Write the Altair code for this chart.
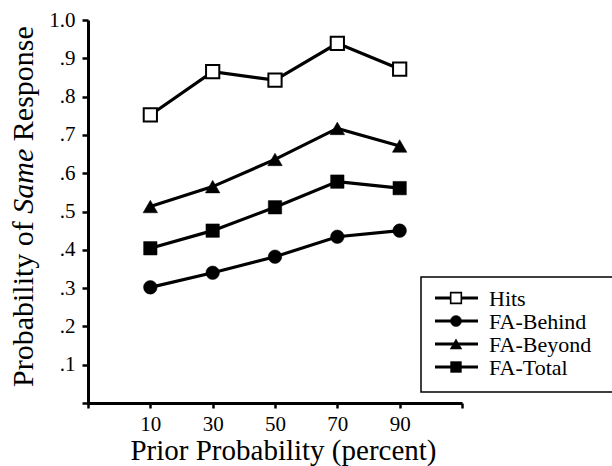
import altair as alt
import pandas as pd

# ---- data ----
prior = [10, 30, 50, 70, 90]
hits = [0.752, 0.865, 0.843, 0.939, 0.872]
fa_behind = [0.302, 0.340, 0.382, 0.434, 0.450]
fa_beyond = [0.513, 0.565, 0.636, 0.717, 0.671]
fa_total = [0.404, 0.450, 0.511, 0.578, 0.561]
series_names = ["Hits", "FA-Behind", "FA-Beyond", "FA-Total"]
x_ticks = [-10, 10, 30, 50, 70, 90, 110]
y_ticks = [0, 0.1, 0.2, 0.3, 0.4, 0.5, 0.6, 0.7, 0.8, 0.9, 1.0]

FONT = "'Liberation Serif', 'Times New Roman', Times, 'DejaVu Serif', serif"
W, H = 374, 383
PAD_L, PAD_T = 88, 20

rows = []
for name, vals in zip(series_names, [hits, fa_behind, fa_beyond, fa_total]):
    for p, v in zip(prior, vals):
        rows.append({"series": name, "prior": p, "prob": v})
df = pd.DataFrame(rows)

shapes = {"Hits": "square", "FA-Behind": "circle", "FA-Beyond": "triangle-up", "FA-Total": "square"}
fills = {"Hits": "white", "FA-Behind": "black", "FA-Beyond": "black", "FA-Total": "black"}
sizes = {"Hits": 175, "FA-Behind": 185, "FA-Beyond": 210, "FA-Total": 180}

xenc = alt.X(
    "prior:Q",
    scale=alt.Scale(domain=[-10, 110], nice=False, zero=False),
    axis=alt.Axis(
        values=x_ticks,
        labelExpr="(datum.value < 0 || datum.value > 100) ? '' : datum.label",
        title="Prior Probability (percent)",
        titleX=195, titleY=56, titleBaseline="alphabetic", titleAlign="center",
        titleAnchor="start",
        tickSize=5, labelPadding=5,
    ),
)
yenc = alt.Y(
    "prob:Q",
    scale=alt.Scale(domain=[0, 1], nice=False),
    axis=alt.Axis(
        values=y_ticks,
        labelExpr="datum.value == 0 ? '' : (datum.value >= 1 ? '1.0' : replace(format(datum.value, '.1f'), '0.', '.'))",
        title=None,
        tickSize=6, labelPadding=7,
    ),
)

base = alt.Chart(df)
layers = []
for name in series_names:
    sub = base.transform_filter(alt.datum.series == name)
    layers.append(sub.mark_line(color="black", strokeWidth=3.2).encode(x=xenc, y=yenc))
for name in series_names:
    sub = base.transform_filter(alt.datum.series == name)
    layers.append(
        sub.mark_point(
            shape=shapes[name], filled=True, fill=fills[name], stroke="black",
            strokeWidth=2 if name == "Hits" else 0.5, size=sizes[name], opacity=1,
        ).encode(x=xenc, y=yenc)
    )

one = pd.DataFrame({"a": [0]})

# ---- legend (manual) ----
layers.append(
    alt.Chart(one).mark_rect(fill="white", stroke="black", strokeWidth=1.5).encode(
        x=alt.value(333), x2=alt.value(530), y=alt.value(257), y2=alt.value(372)
    )
)
for i, name in enumerate(series_names):
    ly = 278 + 23 * i
    layers.append(
        alt.Chart(one).mark_rule(color="black", strokeWidth=3).encode(
            x=alt.value(347), x2=alt.value(390), y=alt.value(ly)
        )
    )
    layers.append(
        alt.Chart(one).mark_point(
            shape=shapes[name], filled=True, fill=fills[name], stroke="black",
            strokeWidth=1.6 if name == "Hits" else 0.5, size=sizes[name] * 0.65, opacity=1,
        ).encode(x=alt.value(368), y=alt.value(ly))
    )
    layers.append(
        alt.Chart(one).mark_text(
            text=name, font=FONT, fontSize=22, align="left", baseline="middle", color="black"
        ).encode(x=alt.value(401), y=alt.value(ly + 1))
    )

# ---- y title with italic "Same" ----
ty_x = 33 - PAD_L
fs_t = 30
w1 = 5.778 * fs_t
w2 = 2.166 * fs_t
sp = 0.25 * fs_t
start = 387 - PAD_T
for txt, style, off in [("Probability of", "normal", 0), ("Same", "italic", w1), ("Response", "normal", w1 + w2 + sp)]:
    layers.append(
        alt.Chart(one).mark_text(
            text=txt, font=FONT, fontSize=fs_t, fontStyle=style, angle=270,
            align="left", baseline="alphabetic", color="black",
        ).encode(x=alt.value(ty_x), y=alt.value(start - off))
    )

chart = alt.layer(*layers).properties(
    width=W, height=H,
    background="white",
    autosize=alt.AutoSizeParams(type="none"),
    padding={"left": PAD_L, "top": PAD_T, "right": 612 - PAD_L - W, "bottom": 466 - PAD_T - H},
).configure_view(stroke=None).configure_axis(
    grid=False, domainColor="black", domainWidth=3, tickColor="black", tickWidth=2.5,
    labelFont=FONT, labelFontSize=21, labelColor="black",
    titleFont=FONT, titleFontSize=29, titleColor="black", titleFontWeight="normal",
)

chart.save("out.html", embed_options={"renderer": "svg", "actions": False})
